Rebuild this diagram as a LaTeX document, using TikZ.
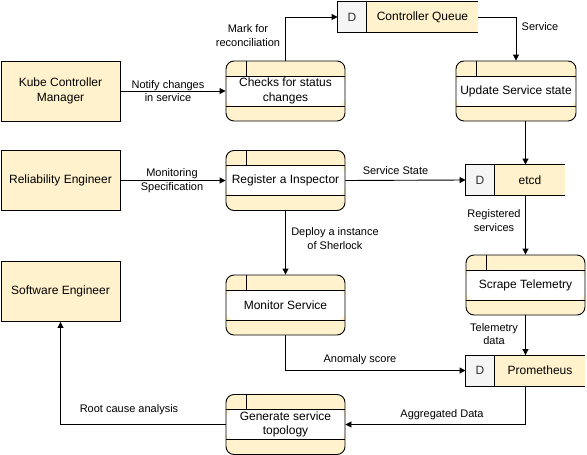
\documentclass[tikz,border=0pt]{standalone}
\usepackage{fontspec}
\setmainfont{Liberation Sans}
\usetikzlibrary{calc,arrows.meta}
\definecolor{yellowF}{HTML}{FFF2CC}
\definecolor{grayF}{HTML}{F5F5F5}
\newcommand\nodefont{\fontsize{12}{14.4}\selectfont}
\newcommand\lblfont{\fontsize{11}{13.5}\selectfont}
\tikzset{
  entity/.style={draw, fill=yellowF, minimum width=119pt, minimum height=60pt, align=center, font=\nodefont, inner sep=2pt},
  process/.style={draw, rounded corners=8pt, fill=yellowF, minimum width=119pt, minimum height=60pt, align=center, font=\nodefont, inner sep=2pt,
    path picture={
      \fill[white] ([yshift=-15pt]path picture bounding box.north west) rectangle ([yshift=15pt]path picture bounding box.south east);
      \draw[sharp corners] ([yshift=-15pt]path picture bounding box.north west) -- ([yshift=-15pt]path picture bounding box.north east);
      \draw[sharp corners] ([yshift=15pt]path picture bounding box.south west) -- ([yshift=15pt]path picture bounding box.south east);
      \draw[sharp corners] ([xshift=20pt]path picture bounding box.north west) -- ([xshift=20pt,yshift=-15pt]path picture bounding box.north west);
    }},
  storebox/.style={fill=yellowF, minimum height=30pt, inner sep=0pt},
  lbl/.style={font=\lblfont, align=center, inner sep=1pt},
  flow/.style={draw, -{Triangle[length=6pt,width=6pt]}},
  every path/.style={line width=0.9pt}
}
\newcommand\dstore[4]{%
  \node[storebox, minimum width=#3] (#1) at #2 {};
  \fill[grayF] (#1.north west) rectangle ([xshift=29pt]#1.south west);
  \node[font=\nodefont, text=black!80] at ($(#1.west)+(14.5pt,0)$) {D};
  \node[font=\nodefont] at ($([xshift=29pt]#1.west)!0.5!(#1.east)$) {#4};
  \draw (#1.north east) -- (#1.north west) -- (#1.south west) -- (#1.south east);
  \draw ([xshift=29pt]#1.north west) -- ([xshift=29pt]#1.south west);
}
\begin{document}
\begin{tikzpicture}[x=1pt,y=-1pt]
\useasboundingbox (0,0) rectangle (587,455);
% entities
\node[entity] (kcm) at (60.5,91) {Kube Controller\\Manager};
\node[entity] (re) at (60.5,180.5) {Reliability Engineer};
\node[entity] (se) at (60.5,291.5) {Software Engineer};
% processes
\node[process] (chk) at (285.5,91) {Checks for status\\changes};
\node[process, minimum width=120pt] (upd) at (516,91) {Update Service state};
\node[process] (reg) at (285.5,180.5) {Register a Inspector};
\node[process] (mon) at (285.5,305) {Monitor Service};
\node[process] (gen) at (285.5,424.5) {Generate service\\topology};
\node[process] (scr) at (525.5,285) {Scrape Telemetry};
% data stores
\dstore{cq}{(408,17)}{140pt}{Controller Queue}
\dstore{etcd}{(515.5,180)}{99pt}{etcd}
\dstore{prom}{(525.5,370.5)}{119pt}{Prometheus}
% flows
\draw[flow] (kcm.east) -- (chk.west);
\draw[flow] (chk.north) |- (cq.west);
\draw[flow] (cq.east) -| (upd.north);
\draw[flow] ([xshift=9.5pt]upd.south) -- ([xshift=9.5pt]upd.south |- etcd.north);
\draw[flow] (re.east) -- (reg.west);
\draw[flow] (reg.east) -- (etcd.west);
\draw[flow] (reg.south) -- (mon.north);
\draw[flow] (scr.north |- etcd.south) -- (scr.north);
\draw[flow] (scr.south) -- (prom.north);
\draw[flow] (mon.south) |- (prom.west);
\draw[flow] (prom.south) |- (gen.east);
\draw[flow] (gen.west) -| (se.south);
% labels
\node[lbl] (l1) at (168,91) {Notify changes\\in service};
\node[lbl] (l2) at (248,35.5) {Mark for\\reconciliation};
\node[lbl] (l3) at (540,26.5) {Service};
\node[lbl] (l4) at (172,180.5) {Monitoring\\Specification};
\node[lbl] (l5) at (395.5,170.5) {Service State};
\node[lbl] (l6) at (335,238.5) {Deploy a instance\\of Sherlock};
\node[lbl] (l7) at (494,220.5) {Registered\\services};
\node[lbl] (l8) at (494,334) {Telemetry\\data};
\node[lbl] (l9) at (360,359.5) {Anomaly score};
\node[lbl] (l10) at (442,414.5) {Aggregated Data};
\node[lbl] (l11) at (129,409.5) {Root cause analysis};
\end{tikzpicture}
\end{document}
